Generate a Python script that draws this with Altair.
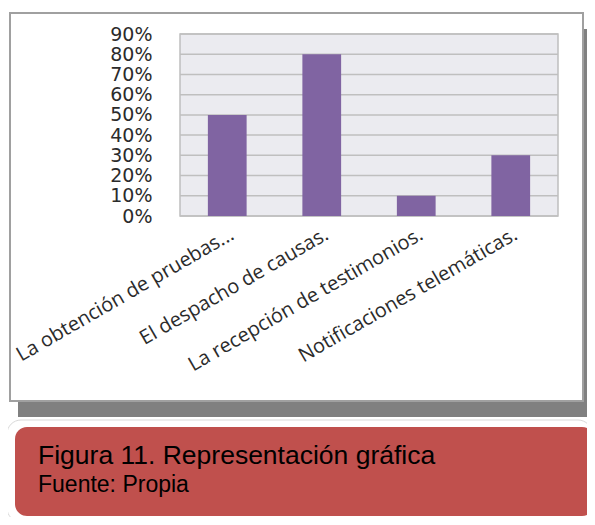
import altair as alt
import pandas as pd

categories = ["La obtención de pruebas...", "El despacho de causas.",
              "La recepción de testimonios.", "Notificaciones telemáticas."]
values = [0.5, 0.8, 0.1, 0.3]
tick_values = [0, 0.1, 0.2, 0.3, 0.4, 0.5, 0.6, 0.7, 0.8, 0.9]
caption_title = "Figura 11. Representación gráfica"
caption_source = "Fuente: Propia"

bars_df = pd.DataFrame({"cat": categories, "val": values})
grid_df = pd.DataFrame({"t": tick_values})
one = alt.Data(values=[{"a": 1}])

W, H = 378, 182
yscale = alt.Scale(domain=[0, 0.9], nice=False)
xscale = alt.Scale(paddingInner=0.59, paddingOuter=0.295)

y_axis = alt.Axis(title=None, values=tick_values, format=".0%", grid=False,
                  domain=False, ticks=False, labelFont="DejaVu Sans",
                  labelFontSize=19, labelColor="#2b2b2b", labelPadding=28,
                  zindex=1)

shadow = alt.Chart(one).mark_rect(fill="#808080").encode(
    x=alt.value(-162), x2=alt.value(407), y=alt.value(-5), y2=alt.value(383))
frame = alt.Chart(one).mark_rect(fill="white", stroke="#A0A0A0", strokeWidth=2).encode(
    x=alt.value(-170), x2=alt.value(403), y=alt.value(-21), y2=alt.value(367))
cap_outer = alt.Chart(one).mark_rect(fill="white", stroke="#D9D9D9", strokeWidth=1,
                                     cornerRadius=14).encode(
    x=alt.value(-173), x2=alt.value(412), y=alt.value(386), y2=alt.value(488))
cap_red = alt.Chart(one).mark_rect(fill="#C0504D", cornerRadius=12).encode(
    x=alt.value(-165), x2=alt.value(414), y=alt.value(393), y2=alt.value(482))
t1 = alt.Chart(one).mark_text(text=caption_title, font="Liberation Sans", fontSize=26.5,
                              align="left", baseline="alphabetic", color="#000000").encode(
    x=alt.value(-142), y=alt.value(430))
t2 = alt.Chart(one).mark_text(text=caption_source, font="Liberation Sans", fontSize=23,
                              align="left", baseline="alphabetic", color="#000000").encode(
    x=alt.value(-142), y=alt.value(458))

plotbg = alt.Chart(one).mark_rect(fill="#EBEBF0", stroke="#BFBFBF", strokeWidth=1.5).encode(
    x=alt.value(0), x2=alt.value(W), y=alt.value(0), y2=alt.value(H))
grid = alt.Chart(grid_df).mark_rule(color="#BFBFBF", strokeWidth=1.5).encode(
    y=alt.Y("t:Q", scale=yscale, axis=y_axis))

bars = alt.Chart(bars_df).mark_bar(color="#8064A2").encode(
    x=alt.X("cat:N", sort=categories, scale=xscale,
            axis=alt.Axis(title=None, labelAngle=-30, labelAlign="right", labelBaseline="top",
                          labelFont="Open Sans", labelFontSize=20, labelColor="#2b2b2b",
                          domain=False, ticks=False, labelPadding=8, labelLimit=400,
                          zindex=1)),
    y=alt.Y("val:Q", scale=yscale, axis=y_axis),
)

chart = alt.layer(shadow, frame, cap_outer, cap_red, t1, t2, plotbg, grid, bars).properties(
    width=W, height=H,
    autosize=alt.AutoSizeParams(type="none"),
    padding={"left": 172, "top": 26, "right": 29, "bottom": 301},
    background="white",
).configure_view(stroke=None)

chart.save("out.html", embed_options={"renderer": "svg", "actions": False})
